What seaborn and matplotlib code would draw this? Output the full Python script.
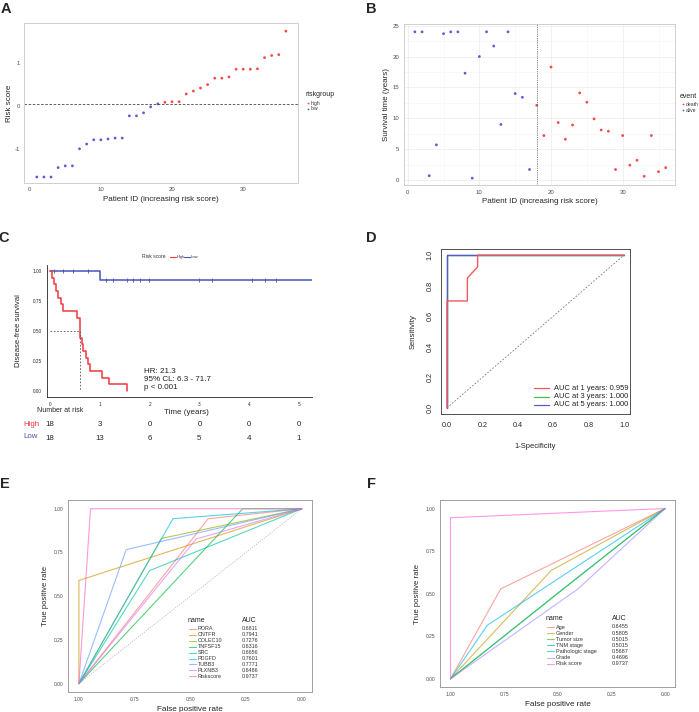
import numpy as np
import pandas as pd
import matplotlib
matplotlib.use("Agg")
import matplotlib.pyplot as plt
import matplotlib.transforms as mtransforms
from matplotlib.lines import Line2D
import seaborn as sns

sns.set_style("white")
plt.rcParams['font.family'] = ['Liberation Sans', 'DejaVu Sans']
plt.rcParams['axes.unicode_minus'] = False

# ---------------- data ----------------
# Panel A
patient_id = list(range(1, 37))
risk_score = [-1.66, -1.66, -1.66, -1.44, -1.40, -1.40, -1.00, -0.89, -0.79, -0.79,
              -0.77, -0.75, -0.75, -0.23, -0.23, -0.16, -0.02, 0.05, 0.086, 0.10,
              0.10, 0.28, 0.35, 0.42, 0.50, 0.65, 0.65, 0.68, 0.86, 0.86,
              0.86, 0.87, 1.13, 1.18, 1.20, 1.75]
risk_group = ['low'] * 18 + ['high'] * 18
risk_cutoff = 0.055

# Panel B
survival_years = [24.0, 24.0, 0.7, 5.7, 23.7, 24.0, 24.0, 17.3, 0.3, 20.0,
                  24.0, 21.7, 9.0, 24.0, 14.0, 13.4, 1.7, 12.1, 7.2, 18.3,
                  9.3, 6.6, 8.9, 14.1, 12.6, 9.9, 8.1, 7.9, 1.7, 7.2,
                  2.4, 3.2, 0.6, 7.2, 1.35, 2.0]
event = ['alive'] * 17 + ['death'] * 19

# Panel C (Kaplan-Meier)
high_time = [0.047, 0.08, 0.12, 0.167, 0.214, 0.27, 0.535, 0.60, 0.60, 0.60,
             0.64, 0.67, 0.72, 0.77, 0.80, 1.04, 1.185, 1.54]
high_status = [1] * 18
low_time = [0.09, 0.27, 0.47, 0.47, 0.76, 1.01, 1.12, 1.27, 1.54, 1.67,
            1.81, 1.99, 2.99, 3.25, 4.05, 4.32, 4.53, 5.30]
low_status = [0, 0, 0, 0, 0, 1, 0, 0, 0, 0, 0, 0, 0, 0, 0, 0, 0, 0]
hr_text = "HR: 21.3\n95% CL: 6.3 - 71.7\np < 0.001"
risk_table_times = [0, 1, 2, 3, 4, 5]

# Panel D (time-dependent ROC)
roc1_fpr = [0.0, 0.0, 0.115, 0.115, 0.173, 0.173, 1.0]
roc1_tpr = [0.0, 0.70, 0.70, 0.85, 0.923, 1.0, 1.0]
roc3_fpr = [0.0, 0.0, 1.0]
roc3_tpr = [0.0, 1.0, 1.0]
roc5_fpr = [0.0, 0.0, 1.0]
roc5_tpr = [0.0, 1.0, 1.0]
roc_labels = ["AUC at 1 years: 0.959", "AUC at 3 years: 1.000", "AUC at 5 years: 1.000"]

# Panel E
e_names = ['RORA', 'CNTFR', 'COLEC10', 'TNFSF15', 'SRC', 'PDGFD', 'TUBB3', 'PLXNB3', 'Riskscore']
e_auc = ['0.6811', '0.7941', '0.7276', '0.6316', '0.6656', '0.7601', '0.7771', '0.6486', '0.9737']
e_knee_spec = [0.42, 1.0, 0.63, 0.265, 0.683, 0.578, 0.788, 0.474, 0.948]
e_knee_tpr = [0.943, 0.59, 0.83, 1.0, 0.646, 0.943, 0.766, 0.827, 1.0]

# Panel F
f_names = ['Age', 'Gender', 'Tumor size', 'TNM stage', 'Pathologic stage', 'Grade', 'Risk score']
f_auc = ['0.6455', '0.5805', '0.5015', '0.5015', '0.5687', '0.4696', '0.9737']
f_knee_spec = [0.766, 0.53, 0.50, 0.50, 0.828, 0.406, 1.0]
f_knee_tpr = [0.528, 0.637, 0.503, 0.503, 0.315, 0.528, 0.946]

# ---------------- styling ----------------
W, H = 699, 712
RED = '#F24A4A'
BLUE = '#5C5CD6'
KM_RED = '#F0383F'
KM_BLUE = '#4653B8'
HUE9 = ['#F8766D', '#D39200', '#93AA00', '#00BA38', '#00C19F', '#00B9E3', '#619CFF', '#DB72FB', '#FF61C3']
HUE7 = ['#F8766D', '#C49A00', '#53B400', '#00C094', '#00B6EB', '#A58AFF', '#FB61D7']

fig = plt.figure(figsize=(W / 100, H / 100), dpi=100)


def fx(px):
    return px / W


def fy(py):
    return 1 - py / H


def add_ax(l, t, r, b):
    return fig.add_axes([fx(l), fy(b), (r - l) / W, (b - t) / H])


def ftext(px, py, s, **kw):
    return fig.text(fx(px), fy(py), s, **kw)


def fline(x0, x1, py, color, lw=0.8, alpha=1.0):
    fig.add_artist(Line2D([fx(x0), fx(x1)], [fy(py), fy(py)], transform=fig.transFigure,
                          color=color, lw=lw, alpha=alpha))


def gg_axes(ax, spine_color='#CFCFCF', tick_size=4.3, pad=1.5):
    for sp in ax.spines.values():
        sp.set_visible(True)
        sp.set_color(spine_color)
        sp.set_linewidth(0.7)
    ax.tick_params(axis='both', length=2, width=0.5, color='#777777',
                   labelsize=tick_size, labelcolor='#4D4D4D', pad=pad)


# panel letters
for lab, (px, py) in {'A': (6, 9), 'B': (371, 9), 'C': (4, 238), 'D': (371, 238),
                      'E': (5, 484), 'F': (371, 484)}.items():
    ftext(px, py, lab, fontsize=10.5, fontweight='bold', ha='center', va='center')

# ---------------- Panel A ----------------
axA = add_ax(24, 23, 298, 183)
dfA = pd.DataFrame({'id': patient_id, 'score': risk_score, 'riskgroup': risk_group})
sns.scatterplot(data=dfA, x='id', y='score', hue='riskgroup', palette={'high': RED, 'low': BLUE},
                s=4, linewidth=0, legend=False, ax=axA)
axA.axhline(risk_cutoff, color='#444444', lw=0.6, ls=(0, (3, 2)))
axA.set_xlim(-0.8, 37.7)
axA.set_ylim(-1.80, 1.94)
axA.set_xticks([0, 10, 20, 30])
axA.set_yticks([-1, 0, 1])
gg_axes(axA, pad=1.0)
axA.set_xlabel('Patient ID (increasing risk score)', fontsize=5.8, labelpad=2.5)
axA.set_ylabel('Risk score', fontsize=5.8, labelpad=1.0)
ftext(306, 95, 'riskgroup', fontsize=5, va='center')
for i, (g, c) in enumerate([('high', RED), ('low', BLUE)]):
    fig.add_artist(Line2D([fx(308)], [fy(103 + 6 * i)], transform=fig.transFigure, marker='o',
                          ms=1.3, color=c, lw=0, mew=0))
    ftext(311, 103 + 6 * i, g, fontsize=3.6, va='center', color='#333333')

# ---------------- Panel B ----------------
axB = add_ax(404, 24, 675, 185)
dfB = pd.DataFrame({'id': patient_id, 'time': survival_years, 'event': event})
sns.scatterplot(data=dfB, x='id', y='time', hue='event', palette={'death': RED, 'alive': BLUE},
                s=4, linewidth=0, legend=False, ax=axB)
axB.axvline(18, color='#555555', lw=0.6, ls=(0, (1, 1.2)))
axB.set_xlim(-0.52, 37.3)
axB.set_ylim(-0.81, 25.27)
axB.set_xticks([0, 10, 20, 30])
axB.set_xticks([5, 15, 25, 35], minor=True)
axB.set_yticks([0, 5, 10, 15, 20, 25])
axB.set_yticks([2.5, 7.5, 12.5, 17.5, 22.5], minor=True)
axB.grid(True, which='major', color='#EBEBEB', lw=0.5)
axB.grid(True, which='minor', color='#F4F4F4', lw=0.4)
axB.set_axisbelow(True)
gg_axes(axB)
axB.tick_params(which='minor', length=0)
axB.set_xlabel('Patient ID (increasing risk score)', fontsize=5.8, labelpad=2.5)
axB.set_ylabel('Survival time (years)', fontsize=5.8, labelpad=1.5)
ftext(680, 97, 'event', fontsize=5, va='center')
for i, (g, c) in enumerate([('death', RED), ('alive', BLUE)]):
    fig.add_artist(Line2D([fx(683)], [fy(104 + 6 * i)], transform=fig.transFigure, marker='o',
                          ms=1.3, color=c, lw=0, mew=0))
    ftext(686, 104 + 6 * i, g, fontsize=3.6, va='center', color='#333333')


# ---------------- Panel C ----------------
def kaplan_meier(times, status):
    t = np.asarray(times, float)
    s = np.asarray(status)
    xs, ys = [0.0], [1.0]
    cx, cy = [], []
    surv = 1.0
    for u in np.unique(t):
        n = (t >= u).sum()
        d = ((t == u) & (s == 1)).sum()
        c = ((t == u) & (s == 0)).sum()
        if d > 0:
            surv *= (1 - d / n)
            xs.append(u)
            ys.append(surv)
        if c > 0:
            cx.append(u)
            cy.append(surv)
    xs.append(t.max())
    ys.append(surv)
    return xs, ys, cx, cy


axC = add_ax(47, 265, 312, 397)
for times, status, col in [(low_time, low_status, KM_BLUE), (high_time, high_status, KM_RED)]:
    xs, ys, cx, cy = kaplan_meier(times, status)
    sns.lineplot(x=xs, y=ys, drawstyle='steps-post', color=col, lw=1.1, estimator=None,
                 sort=False, ax=axC)
    if cx:
        sns.scatterplot(x=cx, y=cy, marker='|', s=10, color=col, linewidth=0.6, ax=axC)
# median survival of high group
hx, hy, _, _ = kaplan_meier(high_time, high_status)
med = next(x for x, y in zip(hx, hy) if y <= 0.5)
axC.plot([0, med], [0.5, 0.5], color='#555555', lw=0.6, ls=(0, (2, 2)))
axC.plot([med, med], [0.5, 0], color='#555555', lw=0.6, ls=(0, (2, 2)))
axC.set_xlim(-0.06, 5.26)
axC.set_ylim(-0.05, 1.05)
axC.set_xticks(risk_table_times)
axC.set_yticks([0, 0.25, 0.5, 0.75, 1.0])
axC.set_yticklabels(['0.00', '0.25', '0.50', '0.75', '1.00'])
for sp in ['top', 'right']:
    axC.spines[sp].set_visible(False)
for sp in ['left', 'bottom']:
    axC.spines[sp].set_color('#222222')
    axC.spines[sp].set_linewidth(0.6)
axC.tick_params(axis='both', length=2, width=0.5, labelsize=3.4, pad=1.5, color='#222222')
axC.set_ylabel('Disease-free survival', fontsize=5.6, labelpad=8)
axC.set_xlabel('')
axC.text(1.88, 0.095, hr_text, fontsize=5.8, va='center', ha='left', linespacing=1.15,
         color='#222222')
ftext(186, 412, 'Time (years)', fontsize=5.8, ha='center', va='center')
ftext(37, 410, 'Number at risk', fontsize=5, ha='left', va='center')
ftext(142, 257, 'Risk score', fontsize=3.6, ha='left', va='center', color='#333333')
fline(170, 176, 257, KM_RED, lw=0.8)
ftext(177, 257, 'High', fontsize=3, ha='left', va='center', color='#333333')
fline(184, 190, 257, KM_BLUE, lw=0.8)
ftext(191, 257, 'Low', fontsize=3, ha='left', va='center', color='#333333')
blend = mtransforms.blended_transform_factory(axC.transData, fig.transFigure)
ftext(23, 424, 'High', fontsize=5.7, color=KM_RED, va='center')
ftext(23, 437, 'Low', fontsize=5.7, color=KM_BLUE, va='center')
for tt in risk_table_times:
    n_high = int((np.asarray(high_time) >= tt).sum())
    n_low = int((np.asarray(low_time) >= tt).sum())
    axC.text(tt, fy(424), str(n_high), transform=blend, fontsize=5.7, ha='center', va='center')
    axC.text(tt, fy(439), str(n_low), transform=blend, fontsize=5.7, ha='center', va='center')

# ---------------- Panel D ----------------
axD = add_ax(441, 249, 630, 414)
axD.plot([0, 1], [0, 1], color='#777777', lw=0.6, ls=(0, (2, 2)))
roc_cols = ['#F25A5A', '#4CBB4C', '#5A5AD0']
for fpr, tpr, col in [(roc3_fpr, roc3_tpr, roc_cols[1]), (roc5_fpr, roc5_tpr, roc_cols[2]),
                      (roc1_fpr, roc1_tpr, roc_cols[0])]:
    sns.lineplot(x=fpr, y=tpr, color=col, lw=1.0, estimator=None, sort=False, ax=axD)
axD.set_xlim(-0.034, 1.034)
axD.set_ylim(-0.04, 1.04)
axD.set_xticks([0, 0.2, 0.4, 0.6, 0.8, 1.0])
axD.set_yticks([0, 0.2, 0.4, 0.6, 0.8, 1.0])
axD.set_xticklabels(['0.0', '0.2', '0.4', '0.6', '0.8', '1.0'])
axD.set_yticklabels(['0.0', '0.2', '0.4', '0.6', '0.8', '1.0'], rotation=90, va='center')
for sp in axD.spines.values():
    sp.set_visible(True)
    sp.set_color('#333333')
    sp.set_linewidth(0.6)
axD.tick_params(axis='both', length=2.5, width=0.5, labelsize=5.2, pad=3, color='#333333')
axD.set_xlabel('1-Specificity', fontsize=5.5, labelpad=10)
axD.set_ylabel('Sensitivity', fontsize=5.5, labelpad=7)
for i, (lab, col) in enumerate(zip(roc_labels, roc_cols)):
    fline(534, 549, 388 + 8.5 * i, col, lw=0.9)
    ftext(554, 388 + 8.5 * i, lab, fontsize=5.4, va='center', color='#222222')


# ---------------- Panels E, F ----------------
def roc_panel(box, names, auc, kspec, ktpr, pal, legend_pos, fs_entry):
    ax = add_ax(*box)
    rows = []
    for n, s, t in zip(names, kspec, ktpr):
        rows += [(n, 0, 1.0, 0.0), (n, 1, s, t), (n, 2, 0.0, 1.0)]
    df = pd.DataFrame(rows, columns=['name', 'step', 'spec', 'tpr'])
    ax.plot([1, 0], [0, 1], color='#BBBBBB', lw=0.6, ls=(0, (1.5, 1.5)))
    sns.lineplot(data=df, x='spec', y='tpr', hue='name', hue_order=names, palette=pal,
                 units='name', estimator=None, sort=False, lw=0.8, alpha=0.65,
                 legend=False, ax=ax)
    ax.set_xlim(1.049, -0.046)
    ax.set_ylim(-0.048, 1.05)
    ticks = [0, 0.25, 0.5, 0.75, 1.0]
    tl = ['0.00', '0.25', '0.50', '0.75', '1.00']
    ax.set_xticks(ticks)
    ax.set_xticklabels(tl)
    ax.set_yticks(ticks)
    ax.set_yticklabels(tl)
    gg_axes(ax, spine_color='#A0A0A0', tick_size=3.5)
    ax.set_xlabel('False positive rate', fontsize=5.9, labelpad=3)
    ax.set_ylabel('True positive rate', fontsize=5.6, labelpad=3)
    (lx, auc_x, top, step) = legend_pos
    ftext(lx, top, 'name', fontsize=5, va='center')
    ftext(auc_x, top, 'AUC', fontsize=5, va='center')
    for i, (n, a, c) in enumerate(zip(names, auc, pal)):
        yy = top + 8 + step * i
        fline(lx + 1, lx + 8, yy, c, lw=0.8, alpha=0.65)
        ftext(lx + 10, yy, n, fontsize=fs_entry, va='center', color='#333333')
        ftext(auc_x, yy, a, fontsize=fs_entry, va='center', color='#333333')
    return ax


axE = roc_panel((68, 500, 312, 692), e_names, e_auc, e_knee_spec, e_knee_tpr, HUE9,
                (188, 242, 621, 5.9), 3.9)
axF = roc_panel((440, 500, 675, 687), f_names, f_auc, f_knee_spec, f_knee_tpr, HUE7,
                (546, 612, 619, 6.1), 4.0)

fig.savefig('out.png', dpi=100)
